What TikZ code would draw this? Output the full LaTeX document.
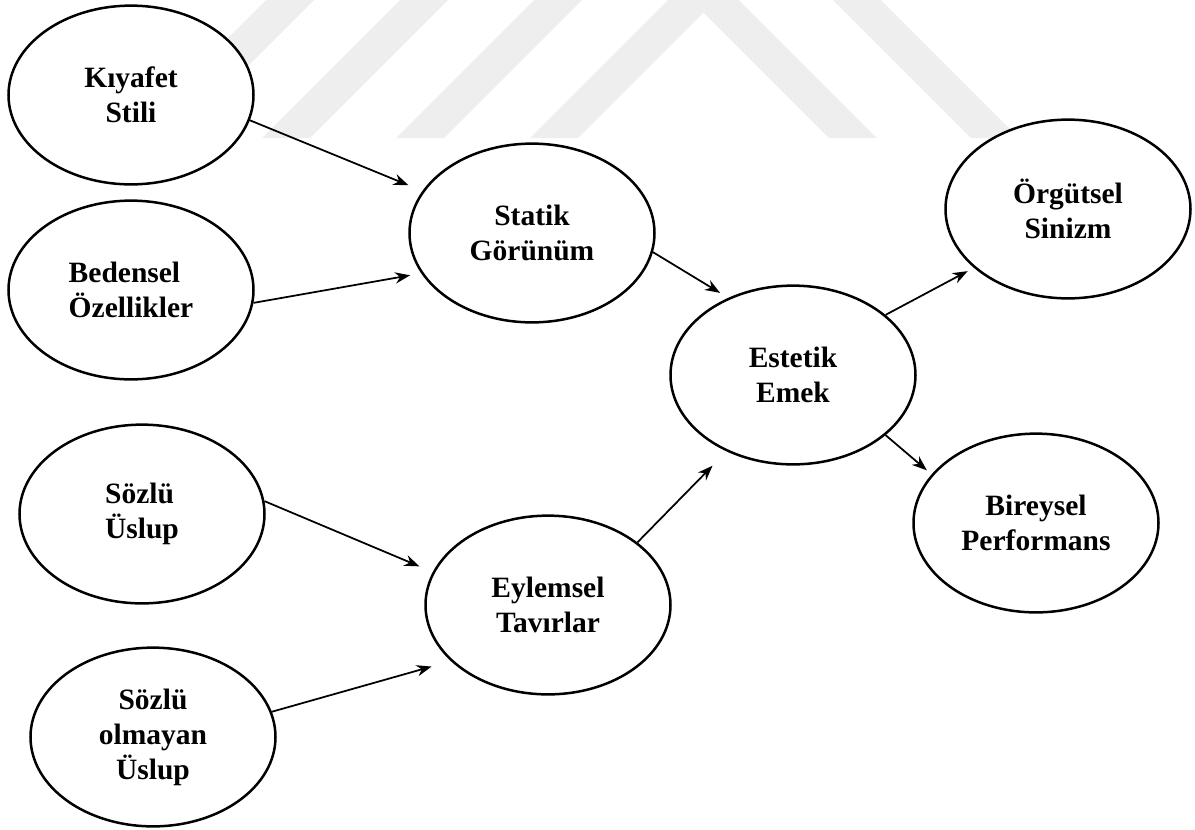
\documentclass[tikz,border=0pt]{standalone}
\usepackage{fontspec}
\setmainfont{Liberation Serif}
\usetikzlibrary{shapes.geometric,arrows.meta}
\definecolor{wmgray}{RGB}{238,238,238}
\begin{document}
\begin{tikzpicture}[x=0.4pt, y=-0.4pt,
    every node/.style={ellipse, draw, line width=1pt, fill=white, minimum width=98pt, minimum height=71.5pt, inner sep=0pt, align=center, font=\fontsize{11.8}{14}\selectfont\bfseries},
    link/.style={line width=0.7pt, -{Stealth[length=6pt,width=4.5pt]}}]
            \useasboundingbox (0,0) rectangle (1195,829);

            % watermark
            \foreach \b in {128,262,396}
                \fill[wmgray] (\b,138) -- (\b+138,0) -- (\b+186,0) -- (\b+48,138) -- cycle;
            \fill[wmgray] (530,138) -- (668,0) -- (739,0) -- (877,138) -- (829,138) -- (703.5,12.5) -- (578,138) -- cycle;
            \fill[wmgray] (833,0) -- (881,0) -- (1019,138) -- (971,138) -- cycle;

            \node (kiyafet) at (131,95) {Kıyafet\\Stili};
            \node[align=left] (bedensel) at (131,290) {Bedensel\\Özellikler};
            \node[align=left] (sozlu) at (142,514) {Sözlü\\Üslup};
            \node (sozsuz) at (153,737) {Sözlü\\olmayan\\Üslup};

            \node (statik) at (532,233) {Statik\\Görünüm};
            \node (eylemsel) at (548,605) {Eylemsel\\Tavırlar};

            \node (estetik) at (793,375) {Estetik\\Emek};

            \node (orgutsel) at (1068,209) {Örgütsel\\Sinizm};
            \node (bireysel) at (1036,523) {Bireysel\\Performans};

            % into Statik Görünüm
            \draw[link, shorten >=6pt] (kiyafet.-12) -- (statik.159);
            \draw[link, shorten >=4.5pt] (bedensel.-6) -- (statik.200);

            % into Eylemsel Tavırlar
            \draw[link, shorten >=5.8pt] (sozlu.6) -- (eylemsel.164);
            \draw[link, shorten >=8pt] (sozsuz.12) -- (eylemsel.210);

            % into Estetik Emek
            \draw[link, shorten >=3.8pt] (statik.-9) -- (estetik.130);
            \draw[link, shorten >=8pt] (eylemsel.35) -- (estetik.229);

            % out of Estetik Emek
            \draw[link, shorten >=2.8pt] (estetik.33) -- (orgutsel.212);
            \draw[link, shorten >=2.5pt] (estetik.-33) -- (bireysel.155);
        \end{tikzpicture}
\end{document}
